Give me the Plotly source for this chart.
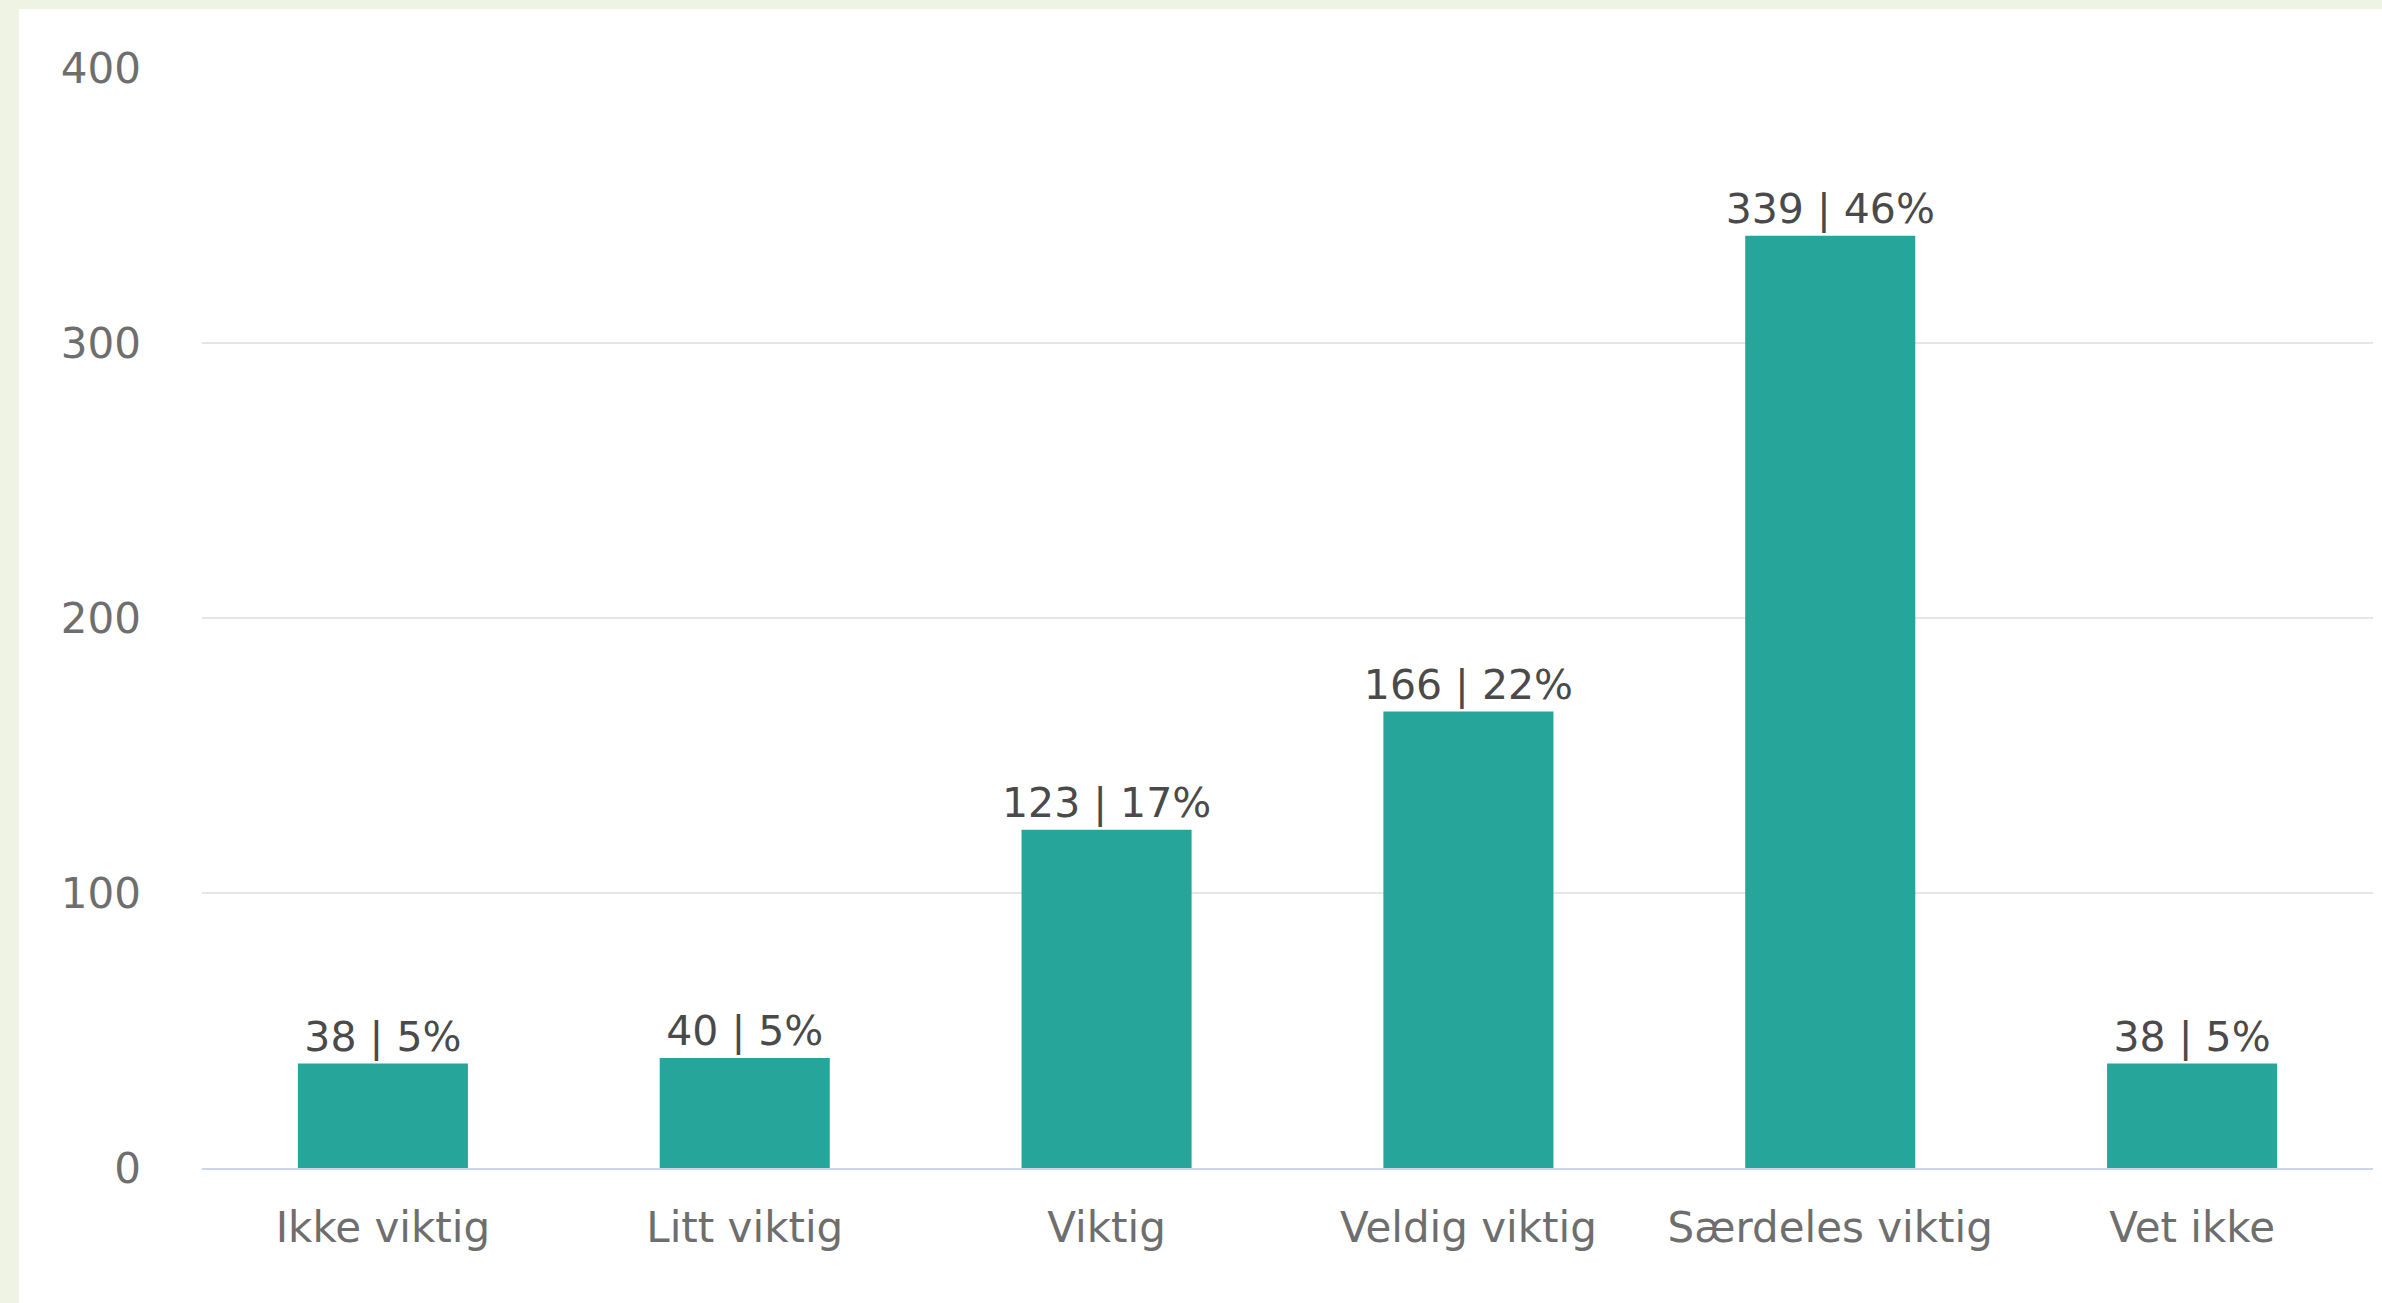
import plotly.graph_objects as go

kategorier = ["Ikke viktig", "Litt viktig", "Viktig", "Veldig viktig", "Særdeles viktig", "Vet ikke"]
antall = [38, 40, 123, 166, 339, 38]
prosent = [5, 5, 17, 22, 46, 5]
y_ticks = [0, 100, 200, 300, 400]

W, H = 2382, 1303
ml, mr, mt, mb = 202, 9, 68, 135
pw = W - ml - mr
ph = H - mt - mb
bakgrunn = "#eff3e4"
skrift = "DejaVu Sans"

etiketter = [f"{a} | {p}%" for a, p in zip(antall, prosent)]

fig = go.Figure()
fig.add_trace(
    go.Bar(
        x=kategorier,
        y=antall,
        marker=dict(color="#26a69a", line=dict(width=0)),
        width=0.47,
        text=etiketter,
        textposition="outside",
        constraintext="none",
        textfont=dict(family=skrift, size=41, color="#4a4a4a"),
        cliponaxis=False,
    )
)

# hvitt kort på grønnlig bakgrunn
fig.add_shape(
    type="rect",
    xref="paper",
    yref="paper",
    x0=(19 - ml) / pw,
    x1=(W - ml) / pw,
    y0=(ph + mt - H) / ph,
    y1=(ph + mt - 9) / ph,
    fillcolor="white",
    line=dict(width=0),
    layer="below",
)

fig.update_layout(
    width=W,
    height=H,
    margin=dict(l=ml, r=mr, t=mt, b=mb),
    paper_bgcolor=bakgrunn,
    plot_bgcolor="white",
    showlegend=False,
    font=dict(family=skrift, color="#6e6e6e"),
)
fig.update_xaxes(
    tickfont=dict(size=42, color="#6e6e6e"),
    showgrid=False,
    showline=True,
    linecolor="#ccd6eb",
    linewidth=2,
    ticks="",
    ticklabelstandoff=22,
)
fig.update_yaxes(
    range=[0, 400],
    tickvals=y_ticks,
    tickfont=dict(size=42, color="#6e6e6e"),
    gridcolor="#e6e6e6",
    gridwidth=2,
    zeroline=False,
    showline=False,
    ticks="",
    ticklabelstandoff=60,
)

fig.write_html(
    "out.html",
    config={"displayModeBar": False},
    post_script=f"document.body.style.margin='0';document.body.style.background='{bakgrunn}';",
)
